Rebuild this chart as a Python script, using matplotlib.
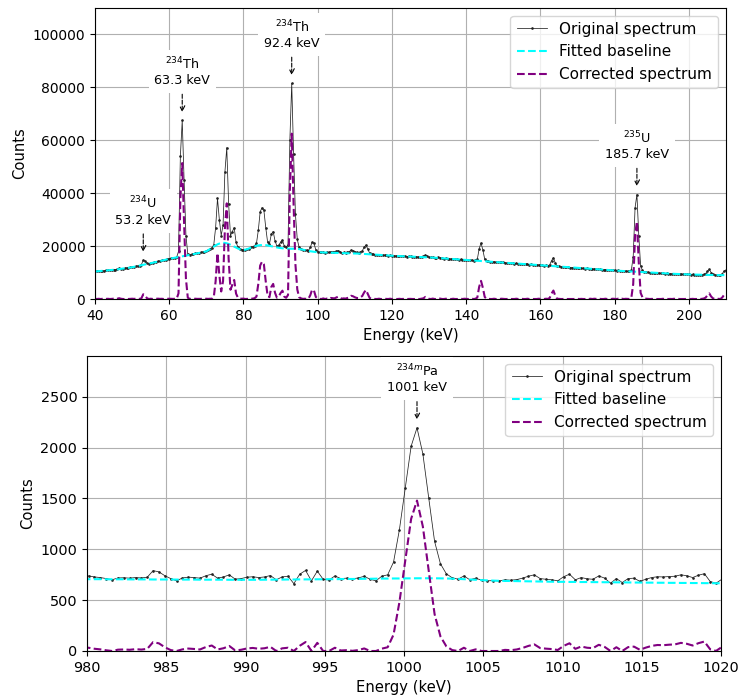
import numpy as np
import matplotlib
matplotlib.use('Agg')
import matplotlib.pyplot as plt

# low energy region, 0.5 keV bins starting at 40 keV
TOP_START = 40.0
TOP_STEP = 0.5
TOP_COUNTS = [
    10500, 10450, 10600, 10550, 10700, 10650, 10800, 10900, 10850, 11000,
    11100, 11050, 11300, 11600, 11500, 11450, 11600, 11800, 11750, 11950,
    12100, 12200, 12400, 12500, 12650, 13000, 14700, 14300, 13500, 13300,
    13600, 13700, 13900, 14100, 14300, 14400, 14600, 14700, 14900, 15100,
    15300, 15400, 15500, 15650, 15800, 18000, 54000, 67500, 45000, 24000,
    17000, 16700, 16900, 17000, 17200, 17300, 17450, 17600, 17800, 17900,
    18100, 18500, 19000, 19400, 20500, 27000, 38000, 30000, 24000, 28000,
    48000, 57200, 36000, 24000, 25500, 27000, 21500, 19600, 19000, 18700,
    18700, 18600, 18900, 19000, 19500, 19800, 20200, 21000, 26000, 33000,
    34500, 33500, 27000, 21500, 20800, 24500, 25500, 22000, 20000, 20300,
    21500, 22300, 20000, 19500, 20500, 60000, 81500, 55000, 32000, 22500,
    19500, 19000, 18700, 18600, 18400, 18300, 19500, 21500, 21000, 18500,
    17900, 17700, 17600, 17800, 17500, 17700, 17600, 17900, 17800, 17700,
    18000, 18300, 17900, 17500, 17600, 17500, 17700, 17900, 18500, 18300,
    17900, 17600, 17500, 17800, 18200, 19500, 20400, 18800, 17300, 17000,
    16900, 16800, 16700, 16800, 16600, 16500, 16600, 16500, 16400, 16500,
    16300, 16400, 16300, 16200, 16300, 16100, 16200, 16100, 16000, 16100,
    16100, 16000, 15900, 16000, 15900, 15800, 16000, 16100, 16600, 16200,
    15800, 15700, 15800, 15600, 15500, 15700, 15600, 15400, 15300, 15400,
    15300, 15200, 15100, 15200, 15000, 15000, 14900, 15000, 14800, 14900,
    14800, 14700, 14600, 14700, 14500, 14600, 15000, 19000, 21200, 18500,
    15000, 14300, 14200, 14100, 14000, 14100, 13900, 13900, 13800, 13900,
    13800, 13700, 13600, 13700, 13500, 13500, 13400, 13500, 13300, 13400,
    13300, 13200, 13100, 13200, 13000, 13100, 12900, 12900, 12800, 12900,
    12800, 12700, 12600, 12700, 12600, 12900, 14500, 15600, 13600, 12400,
    12300, 12200, 12100, 12200, 12000, 12000, 11900, 11900, 11800, 11900,
    11800, 11700, 11700, 11600, 11500, 11600, 11400, 11500, 11300, 11400,
    11300, 11200, 11200, 11100, 11000, 11100, 10900, 11000, 10800, 10900,
    10800, 10700, 10800, 10600, 10700, 10500, 10600, 10500, 10400, 10900,
    16000, 34500, 39500, 24000, 12500, 10800, 10300, 10200, 10100, 10000,
    10000, 9900, 9900, 9800, 9800, 9700, 9800, 9600, 9700, 9600,
    9600, 9500, 9600, 9400, 9500, 9400, 9300, 9400, 9300, 9400,
    9300, 9200, 9300, 9200, 9100, 9200, 9100, 9200, 9300, 9600,
    10500, 11200, 10000, 9300, 9100, 9000, 9100, 9000, 9600, 10600,
    10800,
]
TOP_BASELINE = [
    10400, 10460, 10520, 10580, 10640, 10700, 10760, 10820, 10880, 10940,
    11000, 11100, 11200, 11300, 11400, 11500, 11600, 11700, 11800, 11900,
    12000, 12150, 12300, 12450, 12600, 12750, 12900, 13050, 13200, 13350,
    13500, 13670, 13840, 14010, 14180, 14350, 14520, 14690, 14860, 15030,
    15200, 15330, 15460, 15590, 15720, 15850, 15980, 16110, 16240, 16370,
    16500, 16650, 16800, 16950, 17100, 17250, 17400, 17550, 17700, 17850,
    18000, 18450, 18900, 19350, 19800, 20250, 20650, 20950, 21150, 21250,
    21200, 21050, 20800, 20500, 20150, 19800, 19450, 19100, 18800, 18600,
    18550, 18650, 18850, 19100, 19400, 19650, 19900, 20100, 20250, 20350,
    20400, 20400, 20350, 20250, 20100, 19950, 19800, 19650, 19500, 19350,
    19250, 19150, 19100, 19050, 19000, 19000, 19000, 19000, 18950, 18900,
    18850, 18750, 18650, 18500, 18350, 18200, 18050, 17950, 17850, 17750,
    17700, 17650, 17600, 17580, 17560, 17540, 17520, 17500, 17480, 17460,
    17440, 17420, 17400, 17380, 17360, 17340, 17320, 17300, 17280, 17260,
    17240, 17200, 17160, 17120, 17080, 17040, 17000, 16960, 16920, 16880,
    16840, 16790, 16740, 16690, 16640, 16590, 16540, 16490, 16440, 16390,
    16350, 16320, 16290, 16260, 16230, 16200, 16170, 16140, 16110, 16080,
    16050, 16020, 15990, 15960, 15930, 15900, 15870, 15840, 15810, 15780,
    15750, 15700, 15650, 15600, 15550, 15500, 15450, 15400, 15350, 15300,
    15250, 15200, 15150, 15100, 15050, 15000, 14950, 14900, 14850, 14800,
    14750, 14700, 14650, 14600, 14550, 14500, 14450, 14400, 14350, 14300,
    14250, 14200, 14150, 14100, 14050, 14000, 13950, 13900, 13850, 13800,
    13750, 13700, 13650, 13600, 13550, 13500, 13450, 13400, 13350, 13300,
    13250, 13200, 13150, 13100, 13050, 13000, 12950, 12900, 12850, 12800,
    12750, 12700, 12650, 12600, 12550, 12500, 12450, 12400, 12350, 12300,
    12250, 12200, 12150, 12100, 12050, 12000, 11950, 11900, 11850, 11800,
    11750, 11700, 11650, 11600, 11550, 11500, 11450, 11400, 11350, 11300,
    11250, 11200, 11150, 11100, 11050, 11000, 10950, 10900, 10850, 10800,
    10760, 10720, 10680, 10640, 10600, 10560, 10520, 10480, 10440, 10400,
    10360, 10320, 10280, 10240, 10200, 10160, 10120, 10080, 10040, 10000,
    9960, 9920, 9880, 9840, 9800, 9760, 9720, 9680, 9640, 9600,
    9570, 9540, 9510, 9480, 9450, 9420, 9390, 9360, 9330, 9300,
    9280, 9260, 9240, 9220, 9200, 9180, 9160, 9140, 9120, 9100,
    9090, 9080, 9070, 9060, 9050, 9040, 9030, 9020, 9010, 9000,
    9000,
]
TOP_PEAKS = [53.2, 63.3, 92.4, 185.7]
TOP_LABELS = [
    r'$^{234}$U' + '\n53.2 keV',
    r'$^{234}$Th' + '\n63.3 keV',
    r'$^{234}$Th' + '\n92.4 keV',
    r'$^{235}$U' + '\n185.7 keV',
]

# 1001 keV region, 0.37 keV bins
BOTTOM_START = 979.73
BOTTOM_STEP = 0.37
BOTTOM_COUNTS = [
    735, 738, 728, 722, 712, 700, 718, 720, 716, 722,
    718, 725, 790, 778, 740, 712, 690, 718, 726, 722,
    716, 740, 755, 716, 728, 749, 706, 712, 725, 730,
    722, 728, 742, 700, 728, 735, 662, 755, 792, 690,
    785, 705, 698, 738, 712, 716, 710, 718, 735, 705,
    690, 735, 749, 874, 1192, 1603, 2013, 2194, 1938, 1504,
    1077, 857, 759, 720, 706, 738, 700, 716, 696, 690,
    692, 688, 700, 696, 702, 716, 735, 749, 712, 705,
    700, 690, 730, 755, 700, 722, 710, 705, 738, 716,
    667, 712, 673, 712, 716, 685, 705, 722, 730, 728,
    732, 735, 749, 740, 722, 745, 760, 683, 667, 706,
]
BOTTOM_BASELINE = [
    706, 706, 706, 706, 705, 705, 705, 705, 704, 704,
    704, 704, 703, 703, 703, 703, 702, 702, 702, 702,
    701, 701, 701, 701, 701, 700, 700, 700, 700, 700,
    700, 701, 701, 702, 702, 703, 703, 704, 704, 704,
    705, 705, 706, 706, 707, 708, 708, 709, 710, 710,
    711, 712, 712, 713, 713, 714, 714, 715, 715, 715,
    715, 714, 713, 711, 709, 706, 703, 700, 697, 694,
    692, 690, 689, 688, 687, 686, 685, 684, 683, 682,
    681, 680, 680, 679, 679, 678, 678, 677, 677, 676,
    676, 675, 675, 674, 673, 673, 672, 672, 671, 671,
    670, 670, 669, 669, 668, 668, 667, 667, 666, 666,
]
BOTTOM_PEAKS = [1001.0]
BOTTOM_LABELS = [r'$^{234m}$Pa' + '\n1001 keV']

DPI = 100


def panel(ax, start, step, counts, baseline, peaks, labels, xlim, ylim, xticks, tick_size):
    counts = np.array(counts, dtype=float)
    baseline = np.array(baseline, dtype=float)
    energy = start + step * np.arange(len(counts))
    corrected = np.clip(counts - baseline, 0, None)

    ax.plot(energy, counts, color='#222222', lw=0.55, marker='.', ms=1.8, label='Original spectrum')
    ax.plot(energy, baseline, color='cyan', lw=1.5, ls='--', label='Fitted baseline')
    ax.plot(energy, corrected, color='purple', lw=1.5, ls='--', label='Corrected spectrum')

    for peak, text in zip(peaks, labels):
        near = np.abs(energy - peak) <= 1.0
        idx = np.where(near)[0][np.argmax(counts[near])]
        ax.annotate(text, xy=(energy[idx], counts[idx]), xytext=(0, 24),
                    textcoords='offset points', ha='center', va='bottom', fontsize=9.2,
                    bbox=dict(boxstyle='square,pad=0.45', fc='white', ec='none'),
                    arrowprops=dict(arrowstyle='->', ls='--', color='black', lw=0.8,
                                    shrinkA=1, shrinkB=6))

    ax.set_xlim(*xlim)
    ax.set_ylim(*ylim)
    ax.set_xticks(xticks)
    ax.ticklabel_format(useOffset=False, style='plain')
    ax.tick_params(labelsize=tick_size)
    ax.grid(True)
    ax.set_xlabel('Energy (keV)', fontsize=10.6)
    ax.set_ylabel('Counts', fontsize=10.6)
    ax.legend(loc='upper right', fontsize=11)


if __name__ == '__main__':
    fig = plt.figure(figsize=(742 / DPI, 695 / DPI), dpi=DPI)

    ax_top = fig.add_axes([95 / 742, 1 - 299 / 695, 631 / 742, 291 / 695])
    panel(ax_top, TOP_START, TOP_STEP, TOP_COUNTS, TOP_BASELINE, TOP_PEAKS, TOP_LABELS,
          (40, 210), (0, 110000), np.arange(40, 201, 20), 10)

    ax_bot = fig.add_axes([87 / 742, 1 - 651 / 695, 634 / 742, 295 / 695])
    panel(ax_bot, BOTTOM_START, BOTTOM_STEP, BOTTOM_COUNTS, BOTTOM_BASELINE, BOTTOM_PEAKS,
          BOTTOM_LABELS, (980, 1020), (0, 2900), np.arange(980, 1021, 5), 10.4)

    fig.savefig('out.png', dpi=DPI)
